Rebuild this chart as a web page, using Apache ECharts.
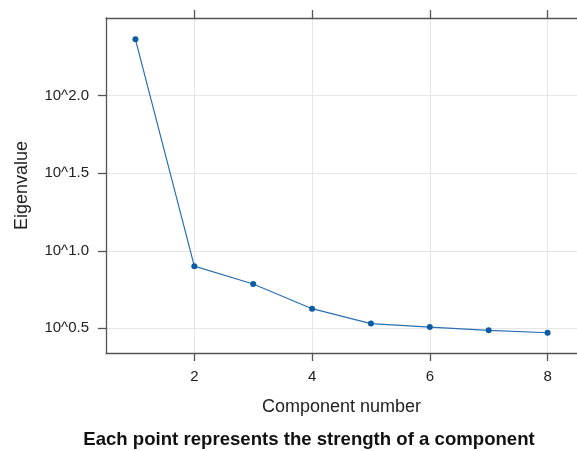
<!DOCTYPE html>
<html>
<head>
<meta charset="utf-8">
<script src="https://cdn.jsdelivr.net/npm/echarts@6/dist/echarts.min.js"></script>
<style>html,body{margin:0;padding:0;background:#fff}#c{width:577px;height:451px}</style>
</head>
<body>
<div id="c"></div>
<script>
var components = [1, 2, 3, 4, 5, 6, 7, 8];
var eigenvalues = [231, 7.96, 6.10, 4.23, 3.39, 3.22, 3.07, 2.96];
var xTicks = [2, 4, 6, 8];
var yTickExponents = [0.5, 1.0, 1.5, 2.0];
var yTicks = yTickExponents.map(function (e) { return Math.pow(10, e); });

var font = 'Liberation Sans, Arial, Helvetica, sans-serif';
var axisColor = '#555555';
var gridColor = '#e6e6e6';

var chart = echarts.init(document.getElementById('c'), null, {renderer: 'canvas'});
chart.setOption({
  animation: false,
  backgroundColor: '#ffffff',
  grid: {left: 106, top: 18, width: 473, height: 335, containLabel: false},
  xAxis: [{
    type: 'value', min: 0.5, max: 8.5, position: 'bottom',
    name: 'Component number', nameLocation: 'middle', nameGap: 45,
    nameTextStyle: {fontFamily: font, fontSize: 18, color: '#222'},
    axisLine: {show: true, lineStyle: {color: axisColor, width: 1.3}},
    axisTick: {show: true, length: 8, inside: false, customValues: xTicks, lineStyle: {color: axisColor, width: 1.3}},
    axisLabel: {show: true, margin: 16, customValues: xTicks, fontFamily: font, fontSize: 15, color: '#222'},
    splitLine: {show: true, lineStyle: {color: gridColor, width: 1}}
  }, {
    type: 'value', min: 0.5, max: 8.5, position: 'top',
    axisLine: {show: true, lineStyle: {color: axisColor, width: 1.3}},
    axisTick: {show: true, length: 8, inside: false, customValues: xTicks, lineStyle: {color: axisColor, width: 1.3}},
    axisLabel: {show: false},
    splitLine: {show: false}
  }],
  yAxis: {
    type: 'log', logBase: 10,
    min: Math.pow(10, 0.3406), max: Math.pow(10, 2.5013),
    name: 'Eigenvalue', nameLocation: 'middle', nameGap: 75, nameRotate: 90,
    nameTextStyle: {fontFamily: font, fontSize: 18, color: '#222'},
    axisLine: {show: true, lineStyle: {color: axisColor, width: 1.3}},
    axisTick: {show: true, length: 8, inside: false, customValues: yTicks, lineStyle: {color: axisColor, width: 1.3}},
    axisLabel: {show: true, margin: 17, customValues: yTicks, fontFamily: font, fontSize: 15, color: '#222',
      formatter: function (v) { return '10^' + (Math.round(Math.log10(v) * 10) / 10).toFixed(1); }},
    splitLine: {show: true, lineStyle: {color: gridColor, width: 1}}
  },
  series: [{
    type: 'line',
    xAxisIndex: 0,
    data: components.map(function (c, i) { return [c, eigenvalues[i]]; }),
    symbol: 'circle', symbolSize: 6,
    lineStyle: {color: '#2b6fb3', width: 1.2},
    itemStyle: {color: '#0b5ca3'}
  }],
  graphic: [{
    type: 'text', x: 309, y: 439.5,
    style: {
      text: 'Each point represents the strength of a component',
      font: 'bold 18.6px ' + font, fill: '#111',
      align: 'center', verticalAlign: 'middle'
    }
  }]
});
</script>
</body>
</html>
